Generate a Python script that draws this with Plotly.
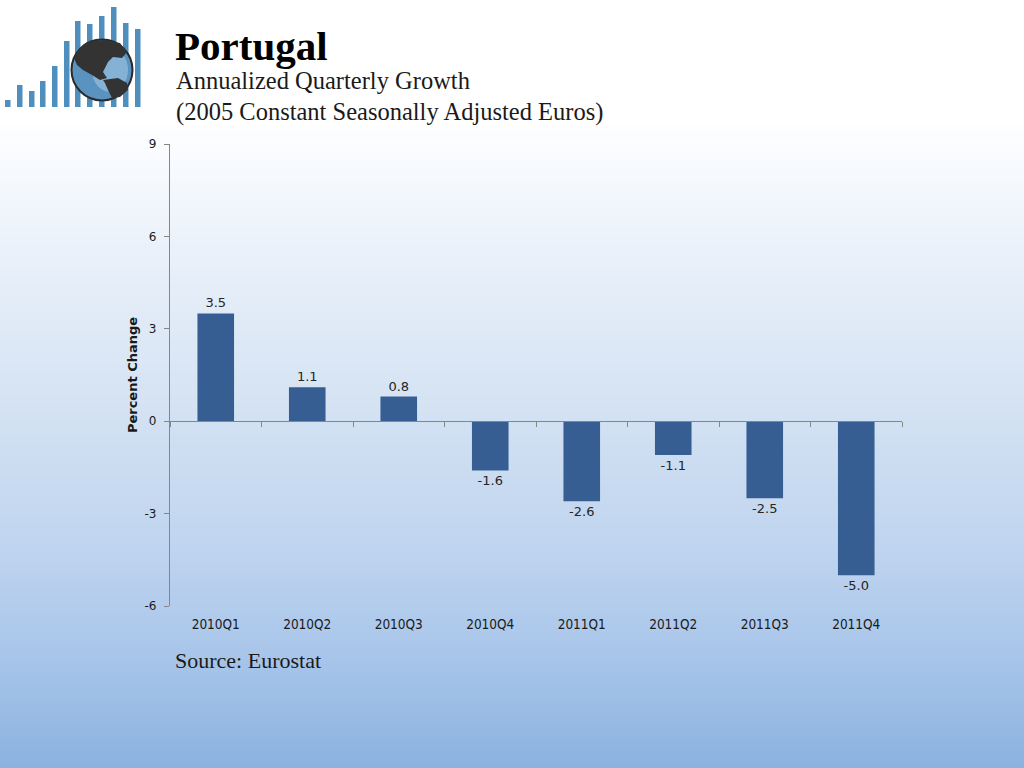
import plotly.graph_objects as go

# ---- data ----
quarters = ["2010Q1", "2010Q2", "2010Q3", "2010Q4", "2011Q1", "2011Q2", "2011Q3", "2011Q4"]
growth = [3.5, 1.1, 0.8, -1.6, -2.6, -1.1, -2.5, -5.0]
y_ticks = [-6, -3, 0, 3, 6, 9]
y_tick_text = ["-6", "-3", "0", "3", "6", "9"]
title_text = "Portugal"
subtitle1 = "Annualized Quarterly Growth"
subtitle2 = "(2005 Constant Seasonally Adjusted Euros)"
source_text = "Source: Eurostat"
ytitle = "Percent Change"

# ---- layout geometry (pixels) ----
WID, HGT = 1024, 768
L, R, T, B = 170, 902, 144, 606
PW, PH = R - L, B - T


def px(x):
    return (x - L) / PW


def py(y):
    return (B - y) / PH


def path_from(points):
    return "M " + " L ".join(f"{px(x):.5f},{py(y):.5f}" for x, y in points) + " Z"


def hex_rgb(h):
    h = h.lstrip("#")
    return tuple(int(h[i:i + 2], 16) for i in (0, 2, 4))


shapes = []

# background gradient (white -> blue), piecewise stops
stops = [(0, "#ffffff"), (120, "#ffffff"), (250, "#eaf1fa"), (400, "#d5e3f3"),
         (550, "#bfd4ef"), (650, "#a9c6ea"), (768, "#8cb2e0")]
stops = [(p, hex_rgb(c)) for p, c in stops]


def grad(y):
    for (p0, c0), (p1, c1) in zip(stops[:-1], stops[1:]):
        if p0 <= y <= p1:
            f = (y - p0) / (p1 - p0) if p1 > p0 else 0
            return tuple(int(round(c0[i] + (c1[i] - c0[i]) * f)) for i in range(3))
    return stops[-1][1]


step = 4
for y in range(0, HGT, step):
    c = grad(y + step / 2)
    shapes.append(dict(type="rect", xref="paper", yref="paper",
                       x0=px(-5), x1=px(WID + 5), y0=py(y + step + 1), y1=py(y),
                       fillcolor=f"rgb{c}", line=dict(width=0), layer="below"))

# logo bars
bar_x = [5, 17, 29, 40, 52, 64, 75, 87, 99, 111, 123, 135]
bar_top = [100, 85, 91, 81, 66, 41, 21, 24, 16, 7, 23, 29]
for bx, bt in zip(bar_x, bar_top):
    shapes.append(dict(type="rect", xref="paper", yref="paper",
                       x0=px(bx), x1=px(bx + 5.5), y0=py(107), y1=py(bt),
                       fillcolor="#4f8fbd", line=dict(width=0), layer="below"))

# globe
cx, cy, rad = 102, 70, 30.5
shapes.append(dict(type="circle", xref="paper", yref="paper",
                   x0=px(cx - rad), x1=px(cx + rad), y0=py(cy + rad), y1=py(cy - rad),
                   fillcolor="#5a93bf", line=dict(color="#2a2a2a", width=2), layer="below"))
shapes.append(dict(type="circle", xref="paper", yref="paper",
                   x0=px(cx - 10), x1=px(cx + 26), y0=py(cy + 22), y1=py(cy - 22),
                   fillcolor="rgba(185,215,238,0.45)", line=dict(width=0), layer="below"))
north_am = [(78, 50), (87, 42), (103, 40), (120, 43), (127, 52), (122, 58), (113, 57),
            (108, 62), (103, 72), (107, 78), (100, 80), (92, 75), (83, 70), (77, 65),
            (74, 58)]
south_am = [(103, 80), (118, 78), (127, 83), (128, 90), (120, 97), (112, 98),
            (108, 90), (105, 83)]
for poly in (north_am, south_am):
    shapes.append(dict(type="path", xref="paper", yref="paper", path=path_from(poly),
                       fillcolor="#333333", line=dict(width=0), layer="below"))

fig = go.Figure()
fig.add_trace(go.Bar(
    x=quarters, y=growth, xaxis="x", yaxis="y",
    marker=dict(color="#375e93", line=dict(width=0)),
    text=[f"{v:.1f}" for v in growth], textposition="outside",
    textfont=dict(family="DejaVu Sans", size=13, color="#262626"),
    cliponaxis=False, width=0.4, showlegend=False, hoverinfo="x+y"))
# invisible trace carrying the bottom category labels
fig.add_trace(go.Scatter(x=quarters, y=growth, xaxis="x2", yaxis="y",
                         mode="markers", marker=dict(opacity=0), showlegend=False,
                         hoverinfo="skip"))

annotations = [
    dict(text=f"<b>{title_text}</b>", x=px(173), y=py(46), xref="paper", yref="paper",
         xanchor="left", yanchor="middle", showarrow=False,
         font=dict(family="Liberation Serif", size=41, color="#000000")),
    dict(text=subtitle1, x=px(174), y=py(80), xref="paper", yref="paper",
         xanchor="left", yanchor="middle", showarrow=False,
         font=dict(family="Liberation Serif", size=24.5, color="#1a1a1a")),
    dict(text=subtitle2, x=px(174), y=py(112), xref="paper", yref="paper",
         xanchor="left", yanchor="middle", showarrow=False,
         font=dict(family="Liberation Serif", size=24.5, color="#1a1a1a")),
    dict(text=source_text, x=px(173), y=py(660), xref="paper", yref="paper",
         xanchor="left", yanchor="middle", showarrow=False,
         font=dict(family="Liberation Serif", size=22, color="#1a1a1a")),
]

fig.update_layout(
    width=WID, height=HGT,
    margin=dict(l=L, r=WID - R, t=T, b=HGT - B, pad=0),
    paper_bgcolor="#ffffff", plot_bgcolor="rgba(0,0,0,0)",
    shapes=shapes, annotations=annotations, bargap=0.6,
    xaxis=dict(type="category", categoryorder="array", categoryarray=quarters,
               range=[-0.5, 7.5], anchor="free", position=0.4,
               showline=True, linecolor="#868686", linewidth=1.2,
               ticks="outside", tickson="boundaries", ticklen=5, tickcolor="#868686",
               showticklabels=False, showgrid=False, zeroline=False, fixedrange=True),
    xaxis2=dict(type="category", categoryorder="array", categoryarray=quarters,
                range=[-0.5, 7.5], overlaying="x", anchor="y", side="bottom",
                showline=False, ticks="outside", ticklen=6, tickcolor="rgba(0,0,0,0)",
                tickfont=dict(family="DejaVu Sans Condensed", size=13.5, color="#1a1a1a"),
                showgrid=False, zeroline=False),
    yaxis=dict(range=[-6, 9], tickvals=y_ticks, ticktext=y_tick_text, anchor="x",
               showline=True, linecolor="#868686", linewidth=1.2,
               ticks="outside", ticklen=5, tickcolor="#868686", ticklabelstandoff=5,
               tickfont=dict(family="DejaVu Sans", size=12, color="#1a1a1a"),
               showgrid=False, zeroline=False,
               title=dict(text=f"<b>{ytitle}</b>", standoff=3,
                          font=dict(family="DejaVu Sans", size=13, color="#1a1a1a"))),
)

fig.write_html("out.html", config={"displayModeBar": False},
               post_script="document.body.style.margin='0px';")
